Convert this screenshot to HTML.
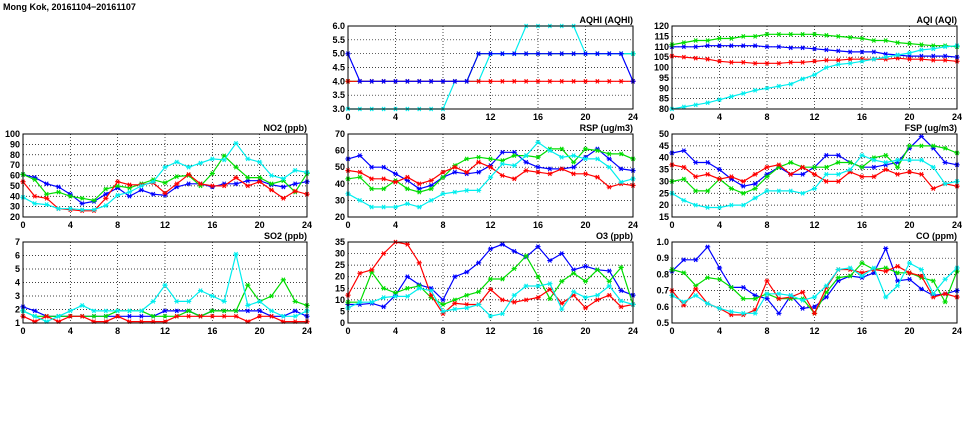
<!DOCTYPE html>
<html><head><meta charset="utf-8"><style>
body{margin:0;background:#fff;width:975px;height:447px;overflow:hidden}
svg{display:block}
text{font-family:"Liberation Sans",sans-serif;font-size:9px;font-weight:bold;fill:#000}
</style></head><body>
<svg id="c" width="975" height="447">
<text x="3" y="10" font-size="10">Mong Kok, 20161104−20161107</text>
</svg>
<script>
const hours=[0,1,2,3,4,5,6,7,8,9,10,11,12,13,14,15,16,17,18,19,20,21,22,23,24];
const aqhiBlue=[5,4,4,4,4,4,4,4,4,4,4,5,5,5,5,5,5,5,5,5,5,5,5,5,4];
const aqhiGreen=[4,4,4,4,4,4,4,4,4,4,4,5,5,5,5,5,5,5,5,5,5,5,5,5,5];
const aqhiRed=[4,4,4,4,4,4,4,4,4,4,4,4,4,4,4,4,4,4,4,4,4,4,4,4,4];
const aqhiCyan=[3,3,3,3,3,3,3,3,3,4,4,4,5,5,5,6,6,6,6,6,5,5,5,5,5];
const aqiBlue=[110,110,110,110.5,110.5,110.5,110.5,110.5,110,110,109.5,109.5,109,108.5,108,107.5,107.5,107.5,106.5,106,105.5,105.5,105.5,105.5,105];
const aqiGreen=[111,112,113,113,114,114,115,115,116,116,116,116,116,115.5,115,114.5,114,113,113,112,111.5,111,110.5,110.5,110];
const aqiRed=[105.5,105,104.5,104,103,102.5,102.5,102,102,102,102.5,102.5,103,103.5,103.5,104,104,104,104,104.5,104,104,103.5,103.5,103];
const aqiCyan=[80,81,82,83,84.5,86,87.5,89,90,91,92,94.5,96.5,100,101.5,102,103,104,105,106,107,108.5,109,110,110.5];
const no2Blue=[61,58,52,49,42,33,35,42,48,40,46,42,41,49,52,52,49,52,52,55,55,51,49,52,54];
const no2Green=[61,56,42,44,40,38,36,47,50,48,52,56,53,59,60,50,62,79,68,58,58,52,55,44,62];
const no2Red=[54,40,38,28,27,26,26,38,54,51,51,53,43,52,61,52,50,50,58,50,54,46,38,45,42];
const no2Cyan=[39,33,32,28,28,27,27,31,41,44,50,54,68,73,68,72,76,75,91,76,73,60,57,65,63];
const rspBlue=[55,57,50,50,46,42,37,39,44,47,46,47,51,59,59,53,50,49,49,50,56,61,55,49,48];
const rspGreen=[43,44,37,37,42,37,35,37,44,51,55,56,55,54,57,57,56,61,61,53,61,60,58,58,55];
const rspRed=[48,47,43,43,41,44,40,42,47,50,47,53,50,45,43,48,47,46,49,46,46,44,38,40,39];
const rspCyan=[34,30,26,26,26,28,26,30,34,35,36,36,44,52,51,57,65,60,56,57,55,55,50,41,43];
const fspBlue=[42,43,38,38,35,31,28,29,33,36,33,33,36,41,41,38,36,36,37,38,44,49,44,38,37];
const fspGreen=[30,31,26,26,31,27,25,27,32,36,38,36,36,36,38,38,36,40,41,36,45,45,45,44,42];
const fspRed=[37,36,32,33,31,32,30,33,36,37,33,36,33,30,30,34,32,32,35,33,34,33,27,29,28];
const fspCyan=[25,22,20,19,19,20,20,23,26,26,26,25,27,33,33,35,41,39,38,39,39,39,36,29,30];
const so2Blue=[2.2,1.9,1.5,1.5,1.5,1.5,1.5,1.5,1.5,1.5,1.5,1.5,1.9,1.9,1.9,1.5,1.9,1.9,1.9,1.9,1.9,1.5,1.5,1.9,1.5];
const so2Green=[1.9,1.5,1.5,1.5,1.5,1.5,1.5,1.5,1.9,1.9,1.9,1.5,1.5,1.5,1.9,1.5,1.9,1.9,1.9,3.8,2.6,3.0,4.2,2.6,2.3];
const so2Red=[1.5,1.1,1.5,1.1,1.5,1.5,1.1,1.1,1.5,1.1,1.1,1.1,1.1,1.5,1.5,1.5,1.5,1.5,1.5,1.1,1.5,1.5,1.1,1.1,1.1];
const so2Cyan=[1.9,1.5,1.1,1.5,1.9,2.3,1.9,1.9,1.9,1.9,1.9,2.6,3.8,2.6,2.6,3.4,3.0,2.6,6.1,2.3,2.6,1.9,1.5,1.5,1.9];
const o3Blue=[8,8,8.5,7,12,20,16.5,15,10,20,22,26,32,34,31,28.5,33,27,30,23,24.5,23,22.5,14,12];
const o3Green=[9,9,22,15,13,15,16,11,8,10,12,13.5,19,19,23.5,29,20,10.5,18,21.5,18,23,18,24,8];
const o3Red=[12,21.5,23,30,35,34,26,12,4,8.5,8,8,14.5,10,9,10,11,14.5,8.5,12,6.5,10,12,7,8];
const o3Cyan=[6.5,9,9,11,11.5,11.5,15,14,5,6,6.5,8,3,4,12,16,16,17,6,13.5,11,12,16,9.5,8];
const coBlue=[.82,.89,.89,.97,.84,.72,.72,.67,.65,.56,.67,.59,.60,.66,.76,.79,.78,.81,.96,.76,.77,.71,.67,.68,.70];
const coGreen=[.83,.81,.73,.78,.77,.72,.65,.65,.68,.65,.65,.65,.56,.69,.78,.79,.87,.83,.84,.81,.81,.78,.76,.63,.82];
const coRed=[.70,.61,.71,.62,.59,.55,.55,.58,.76,.65,.66,.69,.56,.72,.83,.83,.81,.83,.82,.85,.81,.79,.66,.68,.66];
const coCyan=[.67,.63,.67,.62,.59,.57,.56,.56,.68,.68,.67,.64,.66,.73,.83,.84,.79,.84,.66,.73,.87,.83,.68,.77,.84];
const xTicks=[0,4,8,12,16,20,24];

const NS='http://www.w3.org/2000/svg';
const svg=document.getElementById('c');
function mk(tag,at,parent){const e=document.createElementNS(NS,tag);for(const k in at)e.setAttribute(k,at[k]);(parent||svg).appendChild(e);return e;}
const colors=['#0000ff','#00dd00','#ff0000','#00eeee'];
const names=['blue','green','red','cyan'];
function panel(id,title,L,T,W,H,ymin,ymax,ystep,dec,series,order){
  const g=mk('g',{});
  
  
  const sx=v=>L+(v-0)/24*W, sy=v=>T+H-(v-ymin)/(ymax-ymin)*H;
  const n=Math.round((ymax-ymin)/ystep);
  for(let i=0;i<=n;i++){const v=ymin+i*ystep,y=sy(v);
    if(i>0&&i<n){const gl=mk('line',{x1:L,x2:L+W,y1:y,y2:y,stroke:'#000','stroke-width':0.7,'stroke-dasharray':'1,2'},g);}
    const t=mk('text',{x:L-3,y:y+3,'text-anchor':'end'},g);t.textContent=v.toFixed(dec);
    }
  xTicks.forEach(v=>{const x=sx(v);
    if(v>0&&v<24){const gl=mk('line',{x1:x,x2:x,y1:T,y2:T+H,stroke:'#000','stroke-width':0.7,'stroke-dasharray':'1,2'},g);}
    const t=mk('text',{x:x,y:T+H+11,'text-anchor':'middle'},g);t.textContent=v;
    });
  const tt=mk('text',{x:L+W,y:T-3,'text-anchor':'end'},g);tt.textContent=title;
  
  (order||[0,1,2,3]).forEach(si=>{const arr=series[si],c=colors[si];
    const pts=arr.map((v,i)=>sx(hours[i]).toFixed(1)+','+sy(v).toFixed(1)).join(' ');
    const pl=mk('polyline',{points:pts,fill:'none',stroke:c,'stroke-width':1.2},g);
    
    arr.forEach((v,i)=>{const x=sx(hours[i]),y=sy(v),r=2.6;
      const m=mk('path',{d:`M${x-r},${y}h${2*r}M${x-r*0.6},${y-r*0.8}l${1.2*r},${1.6*r}M${x-r*0.6},${y+r*0.8}l${1.2*r},${-1.6*r}`,stroke:c,'stroke-width':1.1},g);
      });
  });
  const fr=mk('rect',{x:L,y:T,width:W,height:H,fill:'none',stroke:'#000','stroke-width':1},g);
  
}
panel('aqhi','AQHI (AQHI)',348,26,285,83,3,6,0.5,1,[aqhiBlue,aqhiGreen,aqhiRed,aqhiCyan],[1,3,2,0]);
panel('aqi','AQI (AQI)',672,26,285,83,80,120,5,0,[aqiBlue,aqiGreen,aqiRed,aqiCyan]);
panel('no2','NO2 (ppb)',23,134,284,83,20,100,10,0,[no2Blue,no2Green,no2Red,no2Cyan]);
panel('rsp','RSP (ug/m3)',348,134,285,83,20,70,10,0,[rspBlue,rspGreen,rspRed,rspCyan]);
panel('fsp','FSP (ug/m3)',672,134,285,83,15,50,5,0,[fspBlue,fspGreen,fspRed,fspCyan]);
panel('so2','SO2 (ppb)',23,242,284,81,1,7,1,0,[so2Blue,so2Green,so2Red,so2Cyan]);
panel('o3','O3 (ppb)',348,242,285,81,0,35,5,0,[o3Blue,o3Green,o3Red,o3Cyan]);
panel('co','CO (ppm)',672,242,285,81,0.5,1.0,0.1,1,[coBlue,coGreen,coRed,coCyan]);
</script>
</body></html>
